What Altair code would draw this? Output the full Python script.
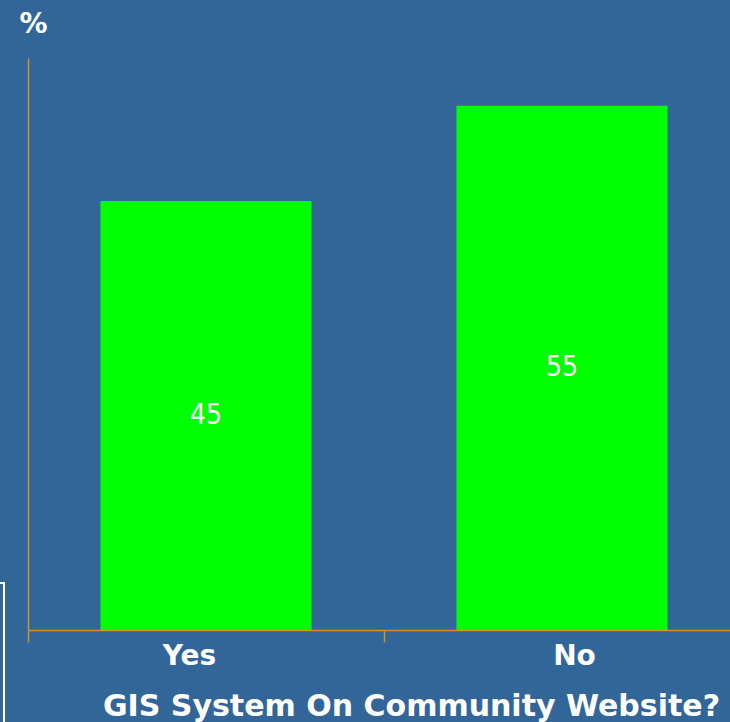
import altair as alt
import pandas as pd

categories = ["Yes", "No"]
values = [45, 55]

df = pd.DataFrame({"answer": categories, "pct": values})

BG = "#326699"
AXIS = "#D4902A"

x = alt.X(
    "answer:N",
    sort=categories,
    scale=alt.Scale(range=[0, 712], paddingInner=0, paddingOuter=0),
    axis=alt.Axis(
        title="GIS System On Community Website?",
        titleColor="white",
        titleFont="DejaVu Sans",
        titleFontSize=30,
        titleFontWeight="bold",
        titleX=383,
        titleY=85,
        titleAlign="center",
        titleBaseline="alphabetic",
        labelColor="white",
        labelFont="DejaVu Sans",
        labelFontSize=28,
        labelFontWeight="bold",
        labelAngle=0,
        labelPadding=0,
        labelOffset={"condition": {"test": "datum.value == 'Yes'", "value": -17}, "value": 12},
        tickSize=12,
        tickColor=AXIS,
        tickWidth=1.5,
        tickBand="extent",
        domainColor=AXIS,
        domainWidth=1.5,
        grid=False,
    ),
)

y_axis = alt.Axis(
    title="%",
    titleAngle=0,
    titleColor="white",
    titleFont="DejaVu Sans",
    titleFontSize=28,
    titleFontWeight="bold",
    titleX=-9,
    titleY=-26,
    titleAlign="left",
    titleBaseline="alphabetic",
    labels=False,
    ticks=False,
    grid=False,
    domainColor=AXIS,
    domainWidth=1.5,
)

bars = alt.Chart(df).mark_bar(color="#00FF00", width=alt.RelativeBandSize(0.593)).encode(
    x=x,
    y=alt.Y("pct:Q", scale=alt.Scale(domain=[0, 60], nice=False), axis=y_axis),
)

labels = alt.Chart(df).transform_calculate(mid="datum.pct / 2").mark_text(
    color="white",
    font="Liberation Sans Narrow, DejaVu Sans Condensed, Roboto Condensed, sans-serif",
    fontSize=28,
    baseline="middle",
).encode(
    x=alt.X("answer:N", sort=categories),
    y=alt.Y("mid:Q"),
    text=alt.Text("pct:Q"),
)

frame = alt.Chart(df.head(1)).mark_rect(
    fill=None, stroke="white", strokeWidth=2
).encode(
    x=alt.value(-68), x2=alt.value(-24), y=alt.value(525), y2=alt.value(700)
)

chart = alt.layer(bars, labels, frame).properties(
    width=702,
    height=572,
    background=BG,
    padding={"left": 28, "top": 58, "right": 0, "bottom": 92},
    autosize=alt.AutoSizeParams(type="none"),
).configure_view(stroke=None)

chart.save("out.html", embed_options={"renderer": "svg", "actions": False})
